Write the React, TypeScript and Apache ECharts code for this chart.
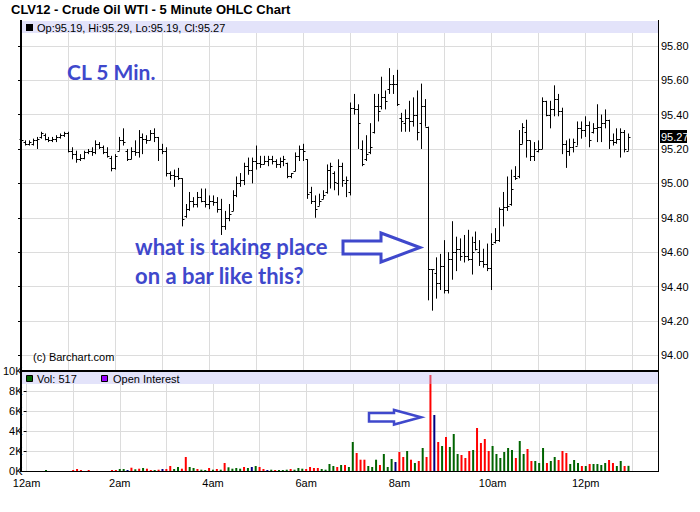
import React, { useEffect, useRef } from 'react';
import * as echarts from 'echarts';

const TITLE = 'CLV12 - Crude Oil WTI - 5 Minute OHLC Chart';
const BAR_MINUTES = 5;
const X_MAX = 813; // minutes after midnight at the right edge of the panels

const OPEN = [
  95.26, 95.24, 95.23, 95.23, 95.25, 95.27, 95.28, 95.26, 95.25, 95.26,
  95.27, 95.28, 95.29, 95.19, 95.17, 95.14, 95.15, 95.18, 95.19, 95.18,
  95.23, 95.21, 95.18, 95.15, 95.09, 95.19, 95.25, 95.19, 95.14, 95.19,
  95.18, 95.27, 95.26, 95.25, 95.29, 95.27, 95.20, 95.19, 95.06, 95.05,
  95.04, 95.03, 94.81, 94.85, 94.90, 94.88, 94.92, 94.90, 94.88, 94.90,
  94.89, 94.85, 94.75, 94.80, 94.84, 94.93, 95.00, 95.02, 95.10, 95.08,
  95.13, 95.12, 95.11, 95.13, 95.14, 95.13, 95.11, 95.13, 95.12, 95.04,
  95.07, 95.16, 95.20, 95.14, 94.95, 94.90, 94.87, 94.91, 94.95, 95.08,
  95.06, 95.00, 95.10, 95.00, 94.95, 95.44, 95.43, 95.20, 95.14, 95.18,
  95.30, 95.45, 95.45, 95.50, 95.55, 95.58, 95.58, 95.38, 95.35, 95.38,
  95.36, 95.40, 95.35, 95.45, 95.33, 94.50, 94.48, 94.42, 94.52, 94.38,
  94.56, 94.60, 94.62, 94.60, 94.58, 94.56, 94.66, 94.60, 94.55, 94.53,
  94.51, 94.66, 94.67, 94.85, 94.86, 94.88, 95.04, 95.04, 95.23, 95.30,
  95.25, 95.16, 95.19, 95.20, 95.48, 95.40, 95.43, 95.49, 95.42, 95.23,
  95.19, 95.21, 95.22, 95.32, 95.31, 95.34, 95.30, 95.32, 95.33, 95.35,
  95.37, 95.25, 95.24, 95.26, 95.30, 95.19,
];

const HIGH = [
  95.27, 95.25, 95.25, 95.26, 95.27, 95.30, 95.29, 95.27, 95.27, 95.28,
  95.29, 95.30, 95.30, 95.21, 95.19, 95.17, 95.19, 95.20, 95.21, 95.25,
  95.24, 95.22, 95.21, 95.16, 95.17, 95.27, 95.32, 95.20, 95.21, 95.25,
  95.31, 95.29, 95.28, 95.31, 95.32, 95.27, 95.23, 95.21, 95.07, 95.08,
  95.09, 95.03, 94.88, 94.95, 94.92, 94.95, 94.97, 94.97, 94.93, 94.93,
  94.92, 94.91, 94.84, 94.88, 94.96, 95.04, 95.06, 95.12, 95.15, 95.15,
  95.22, 95.16, 95.16, 95.16, 95.16, 95.14, 95.15, 95.16, 95.12, 95.06,
  95.18, 95.22, 95.23, 95.14, 94.98, 94.93, 94.94, 94.96, 95.11, 95.12,
  95.07, 95.14, 95.12, 95.04, 95.47, 95.52, 95.46, 95.25, 95.28, 95.35,
  95.52, 95.52, 95.62, 95.54, 95.67, 95.63, 95.66, 95.41, 95.43, 95.48,
  95.50, 95.54, 95.58, 95.49, 95.33, 94.50, 94.57, 94.59, 94.67, 94.60,
  94.78, 94.69, 94.68, 94.70, 94.73, 94.69, 94.72, 94.67, 94.62, 94.65,
  94.71, 94.74, 94.86, 94.95, 95.04, 95.08, 95.10, 95.31, 95.35, 95.37,
  95.25, 95.24, 95.25, 95.50, 95.48, 95.48, 95.57, 95.52, 95.44, 95.25,
  95.26, 95.26, 95.36, 95.36, 95.39, 95.36, 95.35, 95.46, 95.40, 95.43,
  95.37, 95.29, 95.32, 95.32, 95.31, 95.29,
];

const LOW = [
  95.24, 95.22, 95.22, 95.22, 95.20, 95.26, 95.25, 95.24, 95.24, 95.24,
  95.26, 95.27, 95.18, 95.14, 95.12, 95.13, 95.14, 95.17, 95.16, 95.17,
  95.20, 95.17, 95.15, 95.07, 95.08, 95.19, 95.22, 95.13, 95.14, 95.16,
  95.15, 95.17, 95.23, 95.25, 95.24, 95.13, 95.17, 95.04, 95.02, 94.98,
  95.02, 94.75, 94.80, 94.84, 94.86, 94.86, 94.89, 94.86, 94.85, 94.87,
  94.83, 94.70, 94.73, 94.78, 94.84, 94.92, 94.98, 94.99, 95.05, 95.00,
  95.08, 95.09, 95.11, 95.10, 95.11, 95.09, 95.09, 95.10, 95.03, 95.03,
  95.07, 95.13, 95.13, 94.91, 94.88, 94.80, 94.87, 94.91, 94.94, 94.97,
  94.96, 94.93, 94.98, 94.92, 94.93, 95.40, 95.20, 95.10, 95.13, 95.17,
  95.29, 95.36, 95.43, 95.43, 95.52, 95.52, 95.45, 95.30, 95.30, 95.30,
  95.33, 95.25, 95.20, 95.33, 94.32, 94.26, 94.33, 94.38, 94.36, 94.36,
  94.44, 94.49, 94.55, 94.54, 94.55, 94.47, 94.61, 94.52, 94.51, 94.49,
  94.38, 94.65, 94.66, 94.75, 94.84, 94.87, 95.02, 95.03, 95.23, 95.15,
  95.13, 95.13, 95.18, 95.20, 95.39, 95.32, 95.39, 95.39, 95.17, 95.09,
  95.16, 95.18, 95.22, 95.26, 95.27, 95.21, 95.29, 95.24, 95.24, 95.32,
  95.20, 95.22, 95.23, 95.15, 95.18, 95.19,
];

const CLOSE = [
  95.25, 95.23, 95.24, 95.25, 95.26, 95.29, 95.26, 95.25, 95.26, 95.27,
  95.28, 95.29, 95.19, 95.17, 95.14, 95.15, 95.18, 95.19, 95.18, 95.23,
  95.21, 95.18, 95.16, 95.09, 95.16, 95.25, 95.24, 95.14, 95.19, 95.18,
  95.27, 95.26, 95.25, 95.29, 95.27, 95.20, 95.19, 95.06, 95.05, 95.04,
  95.03, 94.79, 94.85, 94.90, 94.88, 94.92, 94.90, 94.88, 94.90, 94.89,
  94.85, 94.75, 94.80, 94.82, 94.93, 95.00, 95.02, 95.10, 95.08, 95.13,
  95.12, 95.11, 95.13, 95.14, 95.13, 95.11, 95.13, 95.14, 95.04, 95.06,
  95.16, 95.20, 95.19, 94.94, 94.90, 94.85, 94.90, 94.93, 95.08, 95.10,
  95.01, 95.10, 95.02, 95.02, 95.44, 95.43, 95.35, 95.11, 95.17, 95.21,
  95.45, 95.42, 95.50, 95.48, 95.58, 95.58, 95.46, 95.36, 95.38, 95.36,
  95.40, 95.30, 95.45, 95.33, 94.50, 94.50, 94.42, 94.52, 94.38, 94.56,
  94.60, 94.62, 94.58, 94.58, 94.56, 94.60, 94.62, 94.55, 94.53, 94.51,
  94.65, 94.67, 94.85, 94.86, 94.87, 94.97, 95.03, 95.23, 95.33, 95.25,
  95.16, 95.20, 95.20, 95.48, 95.40, 95.43, 95.49, 95.42, 95.23, 95.19,
  95.21, 95.24, 95.32, 95.31, 95.34, 95.25, 95.32, 95.33, 95.35, 95.37,
  95.25, 95.24, 95.26, 95.30, 95.20, 95.27,
];

// volume in thousands of contracts
const VOLUME_K = [
  0, 0, 0, 0, 0, 0.1, 0, 0, 0, 0,
  0, 0, 0.1, 0.2, 0.1, 0, 0.1, 0, 0, 0,
  0, 0, 0.1, 0.1, 0.2, 0.2, 0.1, 0.33, 0.17, 0.23,
  0.3, 0.23, 0.1, 0.1, 0.13, 0.2, 0.2, 0.5, 0.2, 0.4,
  0.23, 1.4, 0.4, 0.3, 0.2, 0.13, 0.1, 0.3, 0.13, 0.2,
  0.13, 0.8, 0.37, 0.23, 0.3, 0.23, 0.4, 0.3, 0.4, 0.5,
  0.4, 0.2, 0.1, 0.13, 0.1, 0.1, 0.1, 0.13, 0.2, 0.13,
  0.3, 0.23, 0.2, 0.4, 0.3, 0.3, 0.2, 0.13, 0.7, 0.5,
  0.4, 0.6, 0.6, 0.4, 2.9, 1.8, 1.13, 1.13, 0.5, 0.4,
  1.13, 0.6, 1.7, 0.4, 1.2, 0.9, 1.9, 1.4, 2.0, 1.13,
  0.8, 1.0, 2.3, 1.4, 9.6, 5.6, 2.9, 2.5, 3.4, 2.4,
  3.7, 1.7, 1.6, 1.3, 2.0, 2.1, 4.3, 2.8, 3.2, 2.0,
  2.5, 1.7, 1.3, 1.9, 2.3, 2.1, 1.3, 3.0, 1.7, 2.2,
  1.0, 1.0, 0.8, 2.3, 0.8, 1.0, 1.4, 1.1, 2.0, 1.8,
  0.7, 1.1, 0.8, 0.5, 0.5, 0.7, 0.7, 0.7, 0.6, 0.8,
  1.1, 0.8, 0.5, 1.0, 0.5, 0.517,
];

// g = up, r = down, b = unchanged
const VOLUME_DIR = [
  'g','g','g','g','g','g','g','g','g','g',
  'g','g','r','r','r','g','r','g','g','g',
  'g','g','r','r','g','g','b','r','g','r',
  'g','r','r','g','r','b','r','r','g','g',
  'r','r','g','g','r','g','g','r','g','r',
  'g','r','g','g','g','g','r','g','b','g',
  'r','r','b','g','r','g','g','g','r','g',
  'g','g','r','r','r','r','g','g','g','g',
  'r','g','r','g','g','r','r','r','g','g',
  'g','r','g','g','g','b','r','r','g','r',
  'g','r','g','r','r','b','r','g','r','g',
  'g','g','r','r','r','g','r','r','r','r',
  'g','g','g','g','g','g','r','g','g','r',
  'r','g','g','g','r','g','g','r','r','r',
  'g','g','g','r','g','r','g','g','g','g',
  'r','r','g','g','r','g',
];

const PRICE_TICKS = [94.0, 94.2, 94.4, 94.6, 94.8, 95.0, 95.2, 95.4, 95.6, 95.8];
const HOUR_LABELS: Record<number, string> = {
  0: '12am', 120: '2am', 240: '4am', 360: '6am', 480: '8am', 600: '10am', 720: '12pm',
};
const DIR_COLORS: Record<string, string> = { g: '#006400', r: '#ff0000', b: '#000080' };

const HEADER_TEXT = 'Op:95.19, Hi:95.29, Lo:95.19, Cl:95.27';
const VOL_TEXT = 'Vol: 517';
const OI_TEXT = 'Open Interest';
const NOTE_1 = 'CL 5 Min.';
const NOTE_2 = 'what is taking place';
const NOTE_3 = 'on a bar like this?';
const COPY = '(c) Barchart.com';

const SANS = 'Liberation Sans';
const LATO = 'Lato';
const BLUE = '#3f48cc';

function txt(
  text: string, x: number, y: number,
  size: number, weight: string, family: string, fill: string, z = 120,
) {
  return {
    type: 'text',
    z,
    x,
    y,
    style: {
      text,
      fontSize: size,
      fontWeight: weight,
      fontFamily: family,
      fill,
      align: 'left',
      textAlign: 'left',
      verticalAlign: 'middle',
      textVerticalAlign: 'middle',
    },
  };
}

export default function App() {
  const ref = useRef<HTMLDivElement>(null);

  useEffect(() => {
    document.body.style.margin = '0';
    const chart = echarts.init(ref.current!, null, { renderer: 'svg' });

    const ohlcData = OPEN.map((o, i) => [i * BAR_MINUTES, o, HIGH[i], LOW[i], CLOSE[i]]);
    const volData = VOLUME_K.map((v, i) => ({
      value: [i * BAR_MINUTES, v],
      itemStyle: { color: DIR_COLORS[VOLUME_DIR[i]] },
    }));

    const gridLine = { show: true, lineStyle: { color: '#dcdcdc', width: 1 } };
    const axisFont = { fontFamily: SANS, fontSize: 11, color: '#000' };

    chart.setOption({
      animation: false,
      backgroundColor: '#fff',
      grid: [
        { left: 21, top: 21, width: 637, height: 349 },
        { left: 21, top: 371, width: 637, height: 100 },
      ],
      xAxis: [
        {
          gridIndex: 0, type: 'value', min: 0, max: X_MAX, interval: 60,
          axisLabel: { show: false }, axisTick: { show: false }, axisLine: { show: false },
          splitLine: gridLine,
        },
        {
          gridIndex: 1, type: 'value', min: 0, max: X_MAX, interval: 60,
          axisLabel: {
            ...axisFont, margin: 6, showMinLabel: true, showMaxLabel: true,
            formatter: (v: number) => HOUR_LABELS[v] ?? '',
          },
          axisTick: { show: false }, axisLine: { show: false },
          splitLine: gridLine,
        },
      ],
      yAxis: [
        {
          gridIndex: 0, type: 'value', position: 'right', min: 93.915, max: 95.944,
          axisLine: { show: true, lineStyle: { color: '#000', width: 1 } },
          axisTick: { show: true, inside: true, length: 3, customValues: PRICE_TICKS, lineStyle: { color: '#000' } },
          axisLabel: { ...axisFont, margin: 3, customValues: PRICE_TICKS, formatter: (v: number) => v.toFixed(2) },
          splitLine: { ...gridLine, customValues: PRICE_TICKS },
        },
        {
          gridIndex: 1, type: 'value', position: 'left', min: 0, max: 10, interval: 2,
          axisLine: { show: false },
          axisTick: { show: true, length: 3, lineStyle: { color: '#000' } },
          axisLabel: { ...axisFont, margin: 4, formatter: (v: number) => `${v}K` },
          splitLine: gridLine,
        },
      ],
      series: [
        {
          type: 'custom',
          xAxisIndex: 0,
          yAxisIndex: 0,
          z: 3,
          data: ohlcData,
          encode: { x: 0, y: [1, 2, 3, 4] },
          renderItem: (_params: any, api: any) => {
            const t = api.value(0);
            const o = api.coord([t, api.value(1)]);
            const h = api.coord([t, api.value(2)]);
            const l = api.coord([t, api.value(3)]);
            const c = api.coord([t, api.value(4)]);
            const x = Math.round(h[0]) + 0.5;
            const st = { stroke: '#000', lineWidth: 1 };
            return {
              type: 'group',
              children: [
                { type: 'line', shape: { x1: x, y1: h[1], x2: x, y2: l[1] }, style: st },
                { type: 'line', shape: { x1: x - 2, y1: Math.round(o[1]) + 0.5, x2: x, y2: Math.round(o[1]) + 0.5 }, style: st },
                { type: 'line', shape: { x1: x, y1: Math.round(c[1]) + 0.5, x2: x + 2, y2: Math.round(c[1]) + 0.5 }, style: st },
              ],
            };
          },
        },
        {
          type: 'bar',
          xAxisIndex: 1,
          yAxisIndex: 1,
          z: 2,
          barWidth: 2,
          data: volData,
        },
      ],
    });

    const lastClose = CLOSE[CLOSE.length - 1];
    const tagY = chart.convertToPixel({ yAxisIndex: 0 }, lastClose) as number;

    const graphic: any[] = [
      // opaque underlays for header bands (hide gridlines, keep series on top)
      { type: 'rect', z: 1, shape: { x: 21, y: 21, width: 637, height: 12 }, style: { fill: '#fff' } },
      { type: 'rect', z: 1, shape: { x: 21, y: 372, width: 637, height: 12 }, style: { fill: '#fff' } },
      // translucent header bands
      { type: 'rect', z: 100, shape: { x: 21, y: 21, width: 637, height: 12 }, style: { fill: 'rgba(185,185,242,0.4)' } },
      { type: 'rect', z: 100, shape: { x: 21, y: 372, width: 637, height: 12 }, style: { fill: 'rgba(185,185,242,0.4)' } },
      // borders
      { type: 'line', z: 110, shape: { x1: 21, y1: 20, x2: 21, y2: 472 }, style: { stroke: '#000', lineWidth: 2 } },
      { type: 'line', z: 110, shape: { x1: 658.5, y1: 20, x2: 658.5, y2: 472 }, style: { stroke: '#000', lineWidth: 1 } },
      { type: 'line', z: 110, shape: { x1: 20, y1: 371, x2: 659, y2: 371 }, style: { stroke: '#000', lineWidth: 2 } },
      { type: 'line', z: 110, shape: { x1: 20, y1: 471.5, x2: 659, y2: 471.5 }, style: { stroke: '#000', lineWidth: 1 } },
      // title
      txt(TITLE, 11, 9, 13, 'bold', SANS, '#000'),
      // price header
      { type: 'rect', z: 120, shape: { x: 26, y: 24, width: 7, height: 7 }, style: { fill: '#000' } },
      txt(HEADER_TEXT, 37, 27.5, 11, 'normal', SANS, '#000'),
      // volume header
      { type: 'rect', z: 120, shape: { x: 26.5, y: 375.5, width: 6, height: 6 }, style: { fill: '#006400', stroke: '#000', lineWidth: 1 } },
      txt(VOL_TEXT, 37, 378.5, 11, 'normal', SANS, '#000'),
      { type: 'rect', z: 120, shape: { x: 101.5, y: 375.5, width: 6, height: 6 }, style: { fill: '#9900ff', stroke: '#000', lineWidth: 1 } },
      txt(OI_TEXT, 113, 378.5, 11, 'normal', SANS, '#000'),
      // copyright
      txt(COPY, 33, 357, 11, 'normal', SANS, '#000'),
      // last price tag
      { type: 'rect', z: 120, shape: { x: 660, y: Math.round(tagY) - 7, width: 27, height: 13 }, style: { fill: '#000' } },
      txt(lastClose.toFixed(2), 661, Math.round(tagY) - 0.5, 11, 'normal', SANS, '#fff'),
      // annotations
      txt(NOTE_1, 67, 71, 21, 'bold', LATO, BLUE),
      txt(NOTE_2, 135, 246, 22, 'bold', LATO, BLUE),
      txt(NOTE_3, 135, 275, 22, 'bold', LATO, BLUE),
      {
        type: 'polygon', z: 120,
        shape: { points: [[343, 241], [381, 241], [381, 233], [420, 247.5], [381, 262], [381, 254], [343, 254]] },
        style: { fill: '#fff', stroke: BLUE, lineWidth: 3 },
      },
      {
        type: 'polygon', z: 120,
        shape: { points: [[369, 413], [394, 413], [394, 410], [421, 417.3], [394, 424.5], [394, 421.5], [369, 421.5]] },
        style: { fill: '#fff', stroke: BLUE, lineWidth: 2.5 },
      },
    ];

    chart.setOption({ graphic });

    return () => chart.dispose();
  }, []);

  return <div ref={ref} style={{ width: 700, height: 512 }} />;
}
